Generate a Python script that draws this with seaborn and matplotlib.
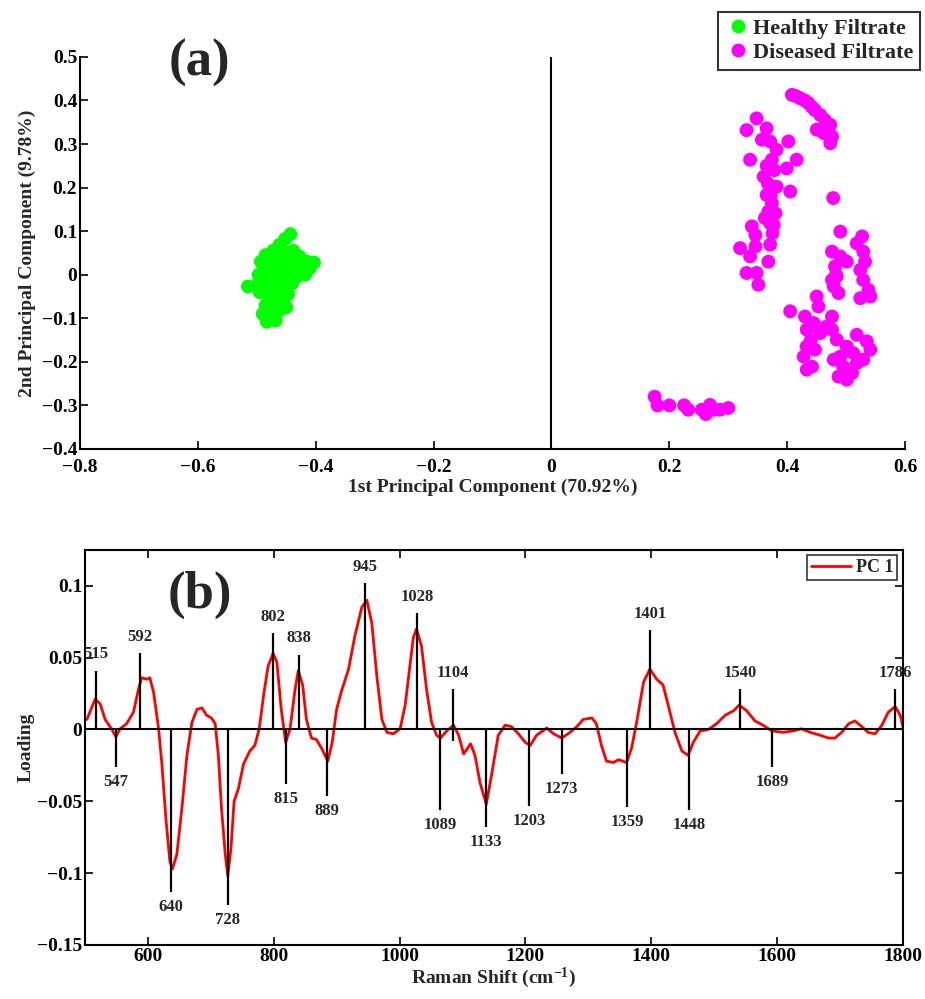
import numpy as np
import pandas as pd
import seaborn as sns
import matplotlib.pyplot as plt
from matplotlib.ticker import FuncFormatter
from matplotlib.lines import Line2D

# ---------------- data: panel (a) PCA scores ----------------
healthy_pc1 = [-0.515, -0.443, -0.452, -0.462, -0.472, -0.485, -0.493, -0.478, -0.465, -0.450,
               -0.438, -0.428, -0.415, -0.403, -0.410, -0.425, -0.440, -0.455, -0.470, -0.485,
               -0.497, -0.490, -0.478, -0.462, -0.448, -0.432, -0.418, -0.440, -0.455, -0.470,
               -0.485, -0.495, -0.478, -0.462, -0.447, -0.455, -0.470, -0.485, -0.490, -0.478,
               -0.470, -0.460, -0.483, -0.468, -0.450, -0.475, -0.460, -0.435, -0.445, -0.420,
               -0.465, -0.480, -0.500, -0.470, -0.455]
healthy_pc2 = [-0.027, 0.093, 0.082, 0.068, 0.055, 0.045, 0.030, 0.035, 0.045, 0.050,
               0.055, 0.042, 0.030, 0.028, 0.015, 0.010, 0.020, 0.025, 0.020, 0.010,
               0.000, -0.015, -0.005, 0.005, 0.000, -0.005, 0.000, -0.020, -0.015, -0.030,
               -0.035, -0.040, -0.050, -0.040, -0.045, -0.060, -0.065, -0.070, -0.090, -0.100,
               -0.085, -0.080, -0.108, -0.105, -0.075, 0.000, -0.020, 0.035, 0.010, 0.020,
               0.030, 0.020, -0.025, -0.045, -0.030]

diseased_pc1 = [
    # upper-left column
    0.348, 0.331, 0.365, 0.357, 0.371, 0.402, 0.382, 0.374, 0.337, 0.416,
    0.399, 0.360, 0.382, 0.405, 0.365, 0.374, 0.368, 0.380, 0.371, 0.377,
    0.340, 0.346, 0.320, 0.346, 0.371, 0.337, 0.368, 0.331, 0.348, 0.351,
    0.365, 0.378, 0.367, 0.372, 0.362, 0.375,
    # top arc
    0.408, 0.422, 0.436, 0.447, 0.456, 0.464, 0.473, 0.450, 0.462, 0.476, 0.473,
    0.415, 0.430, 0.442,
    # isolated points
    0.478, 0.490,
    # middle-right pair of columns
    0.476, 0.490, 0.501, 0.481, 0.484, 0.479, 0.487, 0.476,
    0.527, 0.518, 0.529, 0.532, 0.524, 0.529, 0.538, 0.524, 0.541, 0.483,
    # lower cluster
    0.405, 0.450, 0.453, 0.430, 0.445, 0.433, 0.456, 0.476, 0.476, 0.484,
    0.433, 0.447, 0.428, 0.442, 0.433, 0.518, 0.535, 0.541, 0.501, 0.512,
    0.490, 0.518, 0.495, 0.487, 0.501, 0.510, 0.529, 0.479, 0.440, 0.465,
    # bottom row
    0.175, 0.180, 0.200, 0.225, 0.232, 0.255, 0.269, 0.276, 0.286, 0.300, 0.262]
diseased_pc2 = [
    0.359, 0.332, 0.336, 0.310, 0.306, 0.306, 0.287, 0.264, 0.264, 0.264,
    0.244, 0.225, 0.202, 0.191, 0.183, 0.164, 0.145, 0.141, 0.118, 0.114,
    0.111, 0.091, 0.061, 0.065, 0.069, 0.042, 0.030, 0.004, 0.004, -0.023,
    0.250, 0.240, 0.210, 0.180, 0.130, 0.095,
    0.413, 0.405, 0.394, 0.378, 0.367, 0.355, 0.344, 0.333, 0.325, 0.317, 0.302,
    0.410, 0.400, 0.385,
    0.176, 0.099,
    0.053, 0.042, 0.030, 0.019, -0.004, -0.027, -0.042, -0.012,
    0.088, 0.072, 0.053, 0.030, 0.011, -0.012, -0.035, -0.054, -0.050, 0.000,
    -0.084, -0.050, -0.073, -0.096, -0.111, -0.126, -0.134, -0.096, -0.126, -0.149,
    -0.165, -0.172, -0.188, -0.211, -0.218, -0.138, -0.153, -0.172, -0.165, -0.180,
    -0.188, -0.203, -0.211, -0.234, -0.241, -0.226, -0.195, -0.195, -0.150, -0.120,
    -0.280, -0.300, -0.300, -0.300, -0.310, -0.310, -0.299, -0.310, -0.310, -0.306, -0.320]

# ---------------- data: panel (b) PC1 loading ----------------
raman_shift = [503, 516, 524, 532, 542, 549, 556, 566, 577, 585, 590, 598, 603, 609, 617,
               622, 629, 635, 639, 646, 654, 662, 670, 678, 686, 693, 701, 707, 712, 717,
               723, 727, 732, 737, 744, 752, 762, 770, 777, 784, 791, 799, 805, 812, 819,
               826, 834, 839, 846, 852, 860, 868, 876, 886, 893, 900, 908, 919, 929, 940,
               948, 956, 964, 972, 980, 990, 1001, 1009, 1017, 1022, 1027, 1035, 1043, 1051,
               1059, 1065, 1075, 1086, 1094, 1102, 1113, 1120, 1128, 1138, 1147, 1157, 1168,
               1178, 1189, 1200, 1208, 1218, 1234, 1245, 1258, 1271, 1282, 1292, 1306, 1313,
               1321, 1329, 1340, 1348, 1361, 1369, 1377, 1388, 1398, 1409, 1419, 1427, 1438,
               1449, 1459, 1467, 1478, 1491, 1504, 1518, 1531, 1540, 1552, 1565, 1578, 1592,
               1610, 1626, 1639, 1653, 1669, 1682, 1692, 1703, 1714, 1724, 1735, 1745, 1756,
               1767, 1777, 1788, 1796, 1801]
loading = [0.007, 0.021, 0.018, 0.007, 0.0005, -0.005, 0.0005, 0.004, 0.012, 0.028, 0.036,
           0.035, 0.036, 0.026, 0.0005, -0.023, -0.064, -0.092, -0.097, -0.087, -0.055, -0.018,
           0.005, 0.014, 0.015, 0.010, 0.008, 0.004, -0.018, -0.055, -0.087, -0.102, -0.083,
           -0.050, -0.041, -0.024, -0.015, -0.011, 0.0005, 0.024, 0.044, 0.053, 0.047, 0.014,
           -0.009, 0.0005, 0.028, 0.041, 0.031, 0.007, -0.006, -0.007, -0.013, -0.022, -0.009,
           0.014, 0.027, 0.042, 0.065, 0.085, 0.090, 0.074, 0.037, 0.007, -0.002, -0.003,
           0.0005, 0.017, 0.046, 0.064, 0.070, 0.058, 0.028, 0.005, -0.004, -0.006, -0.001,
           0.003, -0.004, -0.017, -0.010, -0.018, -0.037, -0.052, -0.030, -0.004, 0.003, 0.002,
           -0.003, -0.009, -0.011, -0.004, 0.001, -0.003, -0.006, -0.002, 0.002, 0.007, 0.008,
           0.004, -0.011, -0.022, -0.023, -0.021, -0.023, -0.013, 0.005, 0.033, 0.042, 0.035,
           0.031, 0.017, -0.002, -0.015, -0.018, -0.009, -0.001, 0.000, 0.004, 0.010, 0.013,
           0.017, 0.013, 0.006, 0.003, -0.001, -0.002, -0.001, 0.0005, -0.002, -0.004, -0.006,
           -0.006, -0.002, 0.004, 0.006, 0.002, -0.002, -0.003, 0.003, 0.012, 0.016, 0.010,
           0.001]

# peak markers: drawn position, label, and stem extent
peak_pos = [517, 549, 587, 637, 727, 799, 820, 840, 885, 945, 1028, 1064, 1085, 1137,
            1206, 1258, 1362, 1398, 1460, 1541, 1592, 1788]
peak_label = ["515", "547", "592", "640", "728", "802", "815", "838", "889", "945", "1028",
              "1089", "1104", "1133", "1203", "1273", "1359", "1401", "1448", "1540",
              "1689", "1786"]
peak_low = [0, -0.026, 0, -0.113, -0.122, 0, -0.038, 0, -0.046, 0, 0, -0.056, -0.008,
            -0.068, -0.053, -0.031, -0.054, 0, -0.056, 0, -0.026, 0]
peak_high = [0.041, 0, 0.053, 0, 0, 0.067, 0, 0.052, 0, 0.102, 0.081, 0, 0.028, 0, 0, 0,
             0, 0.069, 0, 0.028, 0, 0.028]

# ---------------- style ----------------
sns.set_style("white")
plt.rcParams["font.family"] = ["Liberation Serif", "DejaVu Serif"]
plt.rcParams["font.weight"] = "bold"
plt.rcParams["mathtext.fontset"] = "custom"
plt.rcParams["mathtext.rm"] = "Liberation Serif:bold"
plt.rcParams["mathtext.it"] = "Liberation Serif:bold"
plt.rcParams["mathtext.bf"] = "Liberation Serif:bold"

fig = plt.figure(figsize=(9.25, 9.99), dpi=100)
ax1 = fig.add_axes([0.0865, 0.5506, 0.892, 0.3924])
ax2 = fig.add_axes([0.0919, 0.0541, 0.884, 0.3954])


def tick_fmt(v, pos):
    if abs(v) < 1e-9:
        return "0"
    return ("%g" % round(v, 3)).replace("-", "\u2212")


fmt = FuncFormatter(tick_fmt)

# ---------------- panel (a) ----------------
scores = pd.DataFrame({
    "pc1": healthy_pc1 + diseased_pc1,
    "pc2": healthy_pc2 + diseased_pc2,
    "group": ["Healthy Filtrate"] * len(healthy_pc1) + ["Diseased Filtrate"] * len(diseased_pc1),
})
colors = {"Healthy Filtrate": "#00ff00", "Diseased Filtrate": "#ff00ff"}
sns.scatterplot(data=scores, x="pc1", y="pc2", hue="group", palette=colors,
                s=100, linewidth=0, alpha=1, legend=False, ax=ax1)
ax1.axvline(0, color="black", lw=1.5)
ax1.set_xlim(-0.8, 0.6)
ax1.set_ylim(-0.4, 0.5)
ax1.set_xticks(np.arange(-0.8, 0.61, 0.2))
ax1.set_yticks(np.arange(-0.4, 0.51, 0.1))
ax1.xaxis.set_major_formatter(fmt)
ax1.yaxis.set_major_formatter(fmt)
for s in ["top", "right"]:
    ax1.spines[s].set_visible(False)
for s in ["left", "bottom"]:
    ax1.spines[s].set_color("black")
    ax1.spines[s].set_linewidth(1.5)
ax1.tick_params(direction="in", length=6, width=1.2, labelsize=14, pad=2,
                bottom=True, left=True, colors="black")
ax1.tick_params(axis="x", pad=7)
ax1.set_xlabel("1st Principal Component (70.92%)", fontsize=14, fontweight="bold", labelpad=2)
ax1.set_ylabel("2nd Principal Component (9.78%)", fontsize=14, fontweight="bold", labelpad=4)
ax1.text(0.145, 0.985, "(a)", transform=ax1.transAxes, fontsize=38, fontweight="bold",
         ha="center", va="center")
handles = [Line2D([], [], ls="", marker="o", ms=10, mec="none", mfc=colors[k]) for k in colors]
leg1 = fig.legend(handles, list(colors), loc="upper right", bbox_to_anchor=(0.995, 0.988),
                  fontsize=16, frameon=True, fancybox=False, edgecolor="black",
                  handletextpad=0.1, borderpad=0.3, labelspacing=0.15, handlelength=1.2,
                  borderaxespad=0)
leg1.get_frame().set_linewidth(1.5)

# ---------------- panel (b) ----------------
sns.lineplot(x=raman_shift, y=loading, color="red", lw=2, label="PC 1", ax=ax2)
ax2.axhline(0, color="black", lw=1.5, zorder=3)
ax2.vlines(peak_pos, peak_low, peak_high, color="black", lw=1.6, zorder=3)
for xp, lab, lo, hi in zip(peak_pos, peak_label, peak_low, peak_high):
    if hi > 0:
        ax2.annotate(lab, (xp, hi), xytext=(0, 6), textcoords="offset points",
                     ha="center", va="bottom", fontsize=12, fontweight="bold")
    else:
        ax2.annotate(lab, (xp, lo), xytext=(0, -5), textcoords="offset points",
                     ha="center", va="top", fontsize=12, fontweight="bold")
ax2.set_xlim(500, 1800)
ax2.set_ylim(-0.15, 0.125)
ax2.set_xticks(np.arange(600, 1801, 200))
ax2.set_yticks([-0.15, -0.1, -0.05, 0, 0.05, 0.1])
ax2.xaxis.set_major_formatter(fmt)
ax2.yaxis.set_major_formatter(fmt)
for s in ax2.spines.values():
    s.set_color("black")
    s.set_linewidth(1.5)
ax2.tick_params(direction="in", length=6, width=1.2, labelsize=14, pad=2,
                bottom=True, left=True, top=True, right=True, colors="black")
ax2.set_xlabel(r"Raman Shift (cm$^{-1}$)", fontsize=14, fontweight="bold", labelpad=1)
ax2.set_ylabel("Loading", fontsize=14, fontweight="bold", labelpad=2)
ax2.text(0.141, 0.886, "(b)", transform=ax2.transAxes, fontsize=38, fontweight="bold",
         ha="center", va="center")
leg2 = ax2.legend(loc="upper right", fontsize=13, frameon=True, fancybox=False,
                  edgecolor="black", borderaxespad=0.3, borderpad=0.2, handlelength=2.2,
                  handletextpad=0.3)
leg2.get_frame().set_linewidth(1.2)

fig.savefig("out.png", dpi=100)
